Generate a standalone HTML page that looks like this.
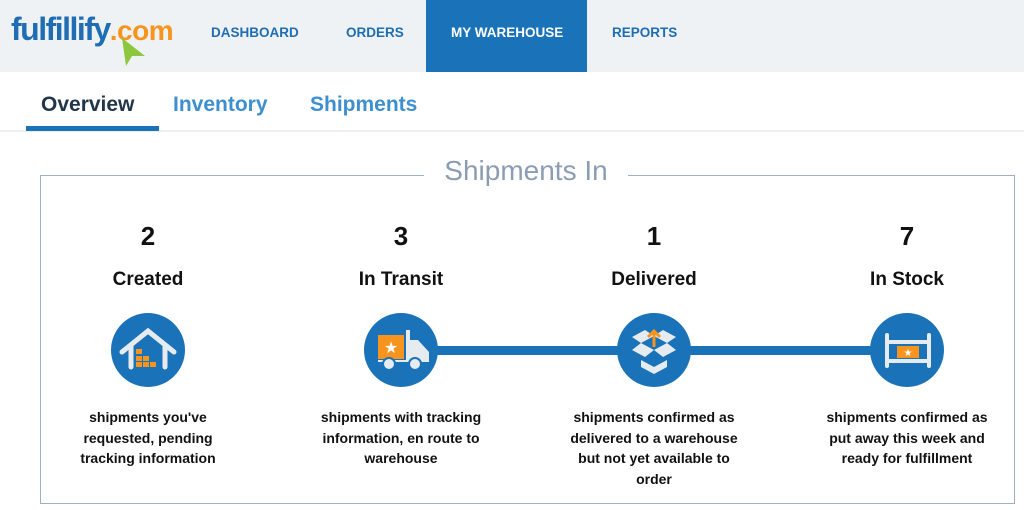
<!DOCTYPE html>
<html><head><meta charset="utf-8"><style>
*{margin:0;padding:0;box-sizing:border-box}
body{width:1024px;height:510px;overflow:hidden;background:#fff;font-family:"Liberation Sans",sans-serif;position:relative}
.a{position:absolute;white-space:nowrap}
.nav{font-size:13.5px;font-weight:bold;color:#1f6db3;top:25px}
.num{font-size:26px;font-weight:bold;color:#111;width:200px;text-align:center;top:221px}
.lab{font-size:19px;font-weight:bold;color:#111;width:200px;text-align:center;top:269px}
.desc{font-size:14px;font-weight:bold;color:#111;width:220px;text-align:center;top:407px;line-height:20.5px;white-space:normal}
</style></head><body>
<div class="a" style="left:0;top:0;width:1024px;height:72px;background:#eff2f5"></div>
<div class="a" style="left:426px;top:0;width:161px;height:72px;background:#1a72b9"></div>
<div class="a" style="left:11px;top:11px;font-size:32px;font-weight:bold;color:#1f6db3;letter-spacing:-1.5px">fulfillify<span style="color:#f7941d;font-size:28px;letter-spacing:-0.5px">.com</span></div>
<svg class="a" style="left:119px;top:36px" width="28" height="32"><polygon points="3,2 26,20 13,20 7,30" fill="#8dc63f"/></svg>
<div class="a nav" style="left:211px">DASHBOARD</div>
<div class="a nav" style="left:346px">ORDERS</div>
<div class="a nav" style="left:451px;color:#fff">MY WAREHOUSE</div>
<div class="a nav" style="left:612px">REPORTS</div>
<div class="a" style="left:41px;top:93px;font-size:21px;font-weight:bold;color:#22364a">Overview</div>
<div class="a" style="left:173px;top:93px;font-size:21px;font-weight:bold;color:#3d8fd0">Inventory</div>
<div class="a" style="left:310px;top:93px;font-size:21px;font-weight:bold;color:#3d8fd0">Shipments</div>
<div class="a" style="left:0;top:130px;width:1024px;height:2px;background:#eef0f2"></div>
<div class="a" style="left:26px;top:126px;width:133px;height:5px;background:#1a72b9"></div>
<div class="a" style="left:40px;top:175px;width:975px;height:329px;border:1px solid #9fb0c0"></div>
<div class="a" style="left:424px;top:160px;width:204px;height:30px;background:#fff"></div>
<div class="a" style="left:424px;top:155px;width:204px;text-align:center;font-size:28px;color:#8a9db2">Shipments In</div>
<div class="a" style="left:401px;top:346px;width:506px;height:9px;background:#1a72b9"></div>
<svg class="a" style="left:0;top:0" width="1024" height="510">
<g fill="#1a72b9"><circle cx="148" cy="350" r="37"/><circle cx="401" cy="350" r="37"/><circle cx="654" cy="350" r="37"/><circle cx="907" cy="350" r="37"/></g>
<g stroke="#e6ebf0" stroke-width="5" fill="none" stroke-linecap="round"><polyline points="122,352 148,331 174,352"/><line x1="131" y1="346" x2="131" y2="367"/><line x1="165" y1="346" x2="165" y2="367"/></g>
<g fill="#f7941d"><rect x="136" y="349" width="6" height="5"/><rect x="136" y="356" width="6" height="5"/><rect x="143" y="356" width="6" height="5"/><rect x="136" y="362" width="6" height="5"/><rect x="143" y="362" width="6" height="5"/><rect x="150" y="362" width="6" height="5"/></g>
<rect x="378" y="335" width="26" height="24" fill="#f7941d"/><text x="391" y="353" font-size="16" fill="#fff" text-anchor="middle">★</text>
<path d="M406 330 L410 330 L410 340 L418 340 L429 352 L429 362 L378 362 L378 360 L406 360 Z" fill="#e6ebf0"/>
<circle cx="389" cy="364" r="6" fill="#e6ebf0" stroke="#1a72b9" stroke-width="2"/><circle cx="415" cy="364" r="6" fill="#e6ebf0" stroke="#1a72b9" stroke-width="2"/>
<g fill="#e6ebf0"><polygon points="632,337 645,330 654,336 641,343"/><polygon points="676,337 663,330 654,336 667,343"/><polygon points="632,350 641,343 654,350 645,357"/><polygon points="676,350 667,343 654,350 663,357"/><polygon points="641,360 654,367 667,360 667,367 654,374 641,367"/></g>
<g stroke="#f7941d" stroke-width="3" fill="none"><line x1="654" y1="347" x2="654" y2="332"/><polyline points="648,337 654,331 660,337"/></g>
<g stroke="#e6ebf0" stroke-width="4" stroke-linecap="round"><line x1="887" y1="335" x2="887" y2="366"/><line x1="929" y1="335" x2="929" y2="366"/><line x1="888" y1="342" x2="928" y2="342"/><line x1="888" y1="361" x2="928" y2="361"/></g>
<rect x="897" y="346" width="22" height="12" fill="#f7941d"/><text x="908" y="356" font-size="10" fill="#fff" text-anchor="middle">★</text>
</svg>
<div class="a num" style="left:48px">2</div><div class="a num" style="left:301px">3</div><div class="a num" style="left:554px">1</div><div class="a num" style="left:807px">7</div>
<div class="a lab" style="left:48px">Created</div><div class="a lab" style="left:301px">In Transit</div><div class="a lab" style="left:554px">Delivered</div><div class="a lab" style="left:807px">In Stock</div>
<div class="a desc" style="left:38px">shipments you've<br>requested, pending<br>tracking information</div>
<div class="a desc" style="left:291px">shipments with tracking<br>information, en route to<br>warehouse</div>
<div class="a desc" style="left:544px">shipments confirmed as<br>delivered to a warehouse<br>but not yet available to<br>order</div>
<div class="a desc" style="left:797px">shipments confirmed as<br>put away this week and<br>ready for fulfillment</div>
</body></html>
